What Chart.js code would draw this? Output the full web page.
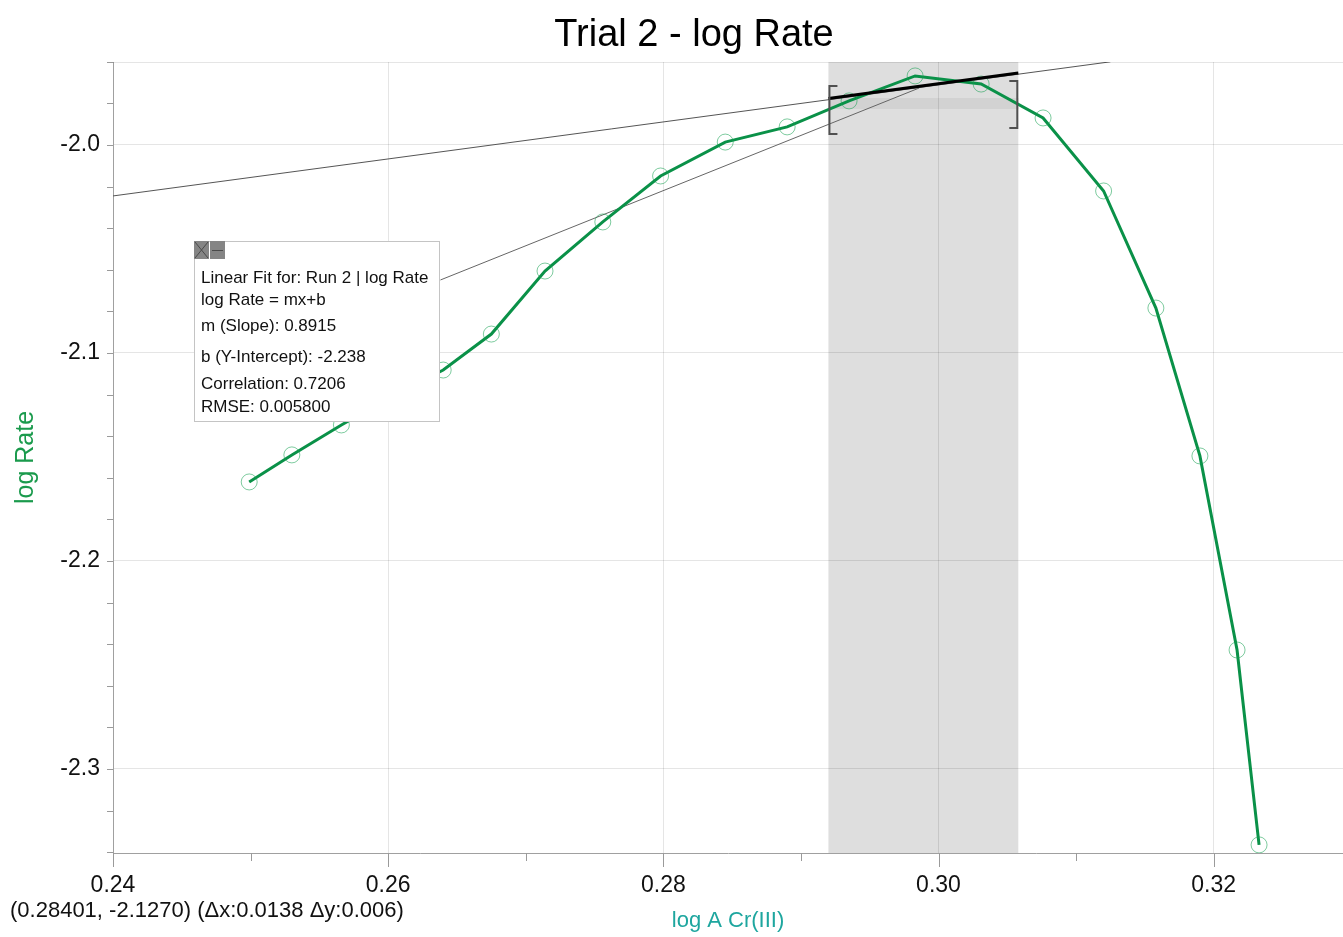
<!DOCTYPE html>
<html>
<head>
<meta charset="utf-8">
<title>Trial 2 - log Rate</title>
<script src="https://cdn.jsdelivr.net/npm/chart.js@4.4.1/dist/chart.umd.min.js"></script>
<style>
  html, body { margin: 0; padding: 0; background: #fff; }
  canvas { display: block; }
</style>
</head>
<body>
<canvas id="trial-chart" width="1343" height="937"></canvas>
<script>
// Run 2 readings
const logA = [0.2499, 0.2530, 0.2566, 0.2602, 0.2640, 0.2675, 0.2714, 0.2756, 0.2798, 0.2845,
              0.2890, 0.2935, 0.2983, 0.3031, 0.3076, 0.3120, 0.3158, 0.3190, 0.3217, 0.3233];
const logRate = [-2.1620, -2.1490, -2.1346, -2.1210, -2.1082, -2.0909, -2.0606, -2.0370, -2.0149, -1.9986,
                 -1.9913, -1.9788, -1.9668, -1.9707, -1.9870, -2.0221, -2.0784, -2.1495, -2.2428, -2.3365];

// linear fit over the selected range (thick) and extended (thin)
const fitX = [0.2920, 0.3058];
const fitY = [-1.9777, -1.9654];
const fitExtX = [0.2400, 0.3125];
const fitExtY = [-2.0245, -1.9600];
// second thin line running up to the peak
const guideX = [0.2638, 0.2986];
const guideY = [-2.0649, -1.9726];

// selection band + markers
const selX = [0.2920, 0.3058];
const stripY = [-1.9774, -1.9827];
const leftBracketY = [-1.9716, -1.9947];
const rightBracketY = [-1.9692, -1.9918];

// axes
const xMin = 0.24, xMax = 0.3294;
const yMin = -2.3404, yMax = -1.9601;
const xTicks = [0.24, 0.26, 0.28, 0.30, 0.32];
const xTickMarks = [0.24, 0.25, 0.26, 0.27, 0.28, 0.29, 0.30, 0.31, 0.32];
const yTicks = [-2.3, -2.2, -2.1, -2.0];
const yTickMarks = [-2.34, -2.32, -2.30, -2.28, -2.26, -2.24, -2.22, -2.20, -2.18, -2.16, -2.14,
                    -2.12, -2.10, -2.08, -2.06, -2.04, -2.02, -2.00, -1.98, -1.96];

const chartTitle = 'Trial 2 - log Rate';
const fitLines = [
  'Linear Fit for: Run 2 | log Rate',
  'log Rate = mx+b',
  'm (Slope): 0.8915',
  'b (Y-Intercept): -2.238',
  'Correlation: 0.7206',
  'RMSE: 0.005800'
];
const readout = '(0.28401, -2.1270) (\u0394x:0.0138 \u0394y:0.006)';

const FONT = '"Liberation Sans", Arial, sans-serif';
const GRID = 'rgba(0,0,0,0.10)';

function pts(xs, ys) {
  return xs.map((x, i) => ({ x: x, y: ys[i] }));
}

const overlay = {
  id: 'overlay',
  beforeDraw(chart) {
    const { ctx, chartArea, scales: { x, y } } = chart;
    ctx.save();
    ctx.fillStyle = '#fff';
    ctx.fillRect(0, 0, chart.width, chart.height);
    // selection band
    const bx0 = x.getPixelForValue(selX[0]);
    const bx1 = x.getPixelForValue(selX[1]);
    ctx.fillStyle = '#dedede';
    ctx.fillRect(bx0, chartArea.top, bx1 - bx0, chartArea.bottom - chartArea.top);
    const sy0 = y.getPixelForValue(stripY[0]);
    const sy1 = y.getPixelForValue(stripY[1]);
    ctx.fillStyle = '#d2d2d2';
    ctx.fillRect(bx0, sy0, bx1 - bx0, sy1 - sy0);
    ctx.restore();
  },
  afterDatasetsDraw(chart) {
    const { ctx, scales: { x, y } } = chart;
    ctx.save();
    ctx.strokeStyle = '#505050';
    ctx.lineWidth = 2;
    const lx = x.getPixelForValue(selX[0]);
    const rx = x.getPixelForValue(selX[1]);
    let t = y.getPixelForValue(leftBracketY[0]), b = y.getPixelForValue(leftBracketY[1]);
    ctx.beginPath();
    ctx.moveTo(lx + 9, t); ctx.lineTo(lx + 1, t); ctx.lineTo(lx + 1, b); ctx.lineTo(lx + 9, b);
    ctx.stroke();
    t = y.getPixelForValue(rightBracketY[0]); b = y.getPixelForValue(rightBracketY[1]);
    ctx.beginPath();
    ctx.moveTo(rx - 9, t); ctx.lineTo(rx - 1, t); ctx.lineTo(rx - 1, b); ctx.lineTo(rx - 9, b);
    ctx.stroke();
    ctx.restore();
  },
  afterDraw(chart) {
    const { ctx, chartArea, scales: { x, y } } = chart;
    ctx.save();
    // top edge of plot
    ctx.strokeStyle = GRID;
    ctx.lineWidth = 1;
    ctx.beginPath();
    ctx.moveTo(chartArea.left, chartArea.top + 0.5);
    ctx.lineTo(chartArea.right, chartArea.top + 0.5);
    ctx.stroke();

    // tick marks
    ctx.strokeStyle = '#9a9a9a';
    ctx.beginPath();
    xTickMarks.forEach(v => {
      const px = Math.round(x.getPixelForValue(v)) + 0.5;
      const len = xTicks.some(m => Math.abs(m - v) < 1e-9) ? 14 : 8;
      ctx.moveTo(px, chartArea.bottom);
      ctx.lineTo(px, chartArea.bottom + len);
    });
    yTickMarks.forEach(v => {
      const py = Math.round(y.getPixelForValue(v)) + 0.5;
      ctx.moveTo(chartArea.left - 6, py);
      ctx.lineTo(chartArea.left, py);
    });
    ctx.stroke();

    // title
    ctx.fillStyle = '#000';
    ctx.font = '38px ' + FONT;
    ctx.textAlign = 'center';
    ctx.textBaseline = 'alphabetic';
    ctx.fillText(chartTitle, 694, 46);

    // cursor readout
    ctx.font = '22px ' + FONT;
    ctx.textAlign = 'left';
    ctx.fillStyle = '#111';
    ctx.fillText(readout, 10, 917);

    // fit info box
    const bx = 194, by = 241, bw = 245, bh = 180;
    ctx.fillStyle = '#fff';
    ctx.fillRect(bx, by, bw, bh);
    ctx.strokeStyle = '#c4c4c4';
    ctx.strokeRect(bx + 0.5, by + 0.5, bw, bh);
    ctx.fillStyle = '#858585';
    ctx.fillRect(bx, by, 15, 18);
    ctx.fillRect(bx + 16, by, 15, 18);
    ctx.strokeStyle = '#4a4a4a';
    ctx.lineWidth = 1;
    ctx.beginPath();
    ctx.moveTo(bx + 1, by + 1); ctx.lineTo(bx + 14, by + 17);
    ctx.moveTo(bx + 14, by + 1); ctx.lineTo(bx + 1, by + 17);
    ctx.moveTo(bx + 18, by + 9.5); ctx.lineTo(bx + 29, by + 9.5);
    ctx.stroke();
    ctx.fillStyle = '#111';
    ctx.font = '17px ' + FONT;
    const baselines = [283, 305, 331, 362, 389, 412];
    fitLines.forEach((line, i) => ctx.fillText(line, 201, baselines[i]));
    ctx.restore();
  }
};

const ctx = document.getElementById('trial-chart').getContext('2d');
new Chart(ctx, {
  type: 'scatter',
  data: {
    datasets: [
      {
        label: 'fit extended',
        data: pts(fitExtX, fitExtY),
        showLine: true,
        borderColor: '#555',
        borderWidth: 1,
        pointRadius: 0,
        order: 4
      },
      {
        label: 'guide',
        data: pts(guideX, guideY),
        showLine: true,
        borderColor: '#666',
        borderWidth: 1,
        pointRadius: 0,
        order: 3
      },
      {
        label: 'Run 2',
        data: pts(logA, logRate),
        showLine: true,
        borderColor: '#0a9148',
        borderWidth: 3,
        pointRadius: 8,
        pointBorderWidth: 1,
        pointBorderColor: 'rgba(20,160,80,0.55)',
        pointBackgroundColor: 'rgba(0,0,0,0)',
        order: 2
      },
      {
        label: 'linear fit',
        data: pts(fitX, fitY),
        showLine: true,
        borderColor: '#000',
        borderWidth: 3,
        pointRadius: 0,
        order: 1
      }
    ]
  },
  options: {
    responsive: false,
    animation: false,
    events: [],
    layout: { padding: { top: 62, left: 0, right: 0, bottom: 0 }, autoPadding: false },
    plugins: {
      legend: { display: false },
      tooltip: { enabled: false }
    },
    scales: {
      x: {
        type: 'linear',
        min: xMin,
        max: xMax,
        afterBuildTicks: scale => { scale.ticks = xTicks.map(v => ({ value: v })); },
        afterFit: scale => { scale.height = 84; },
        grid: { color: GRID, drawTicks: false },
        border: { display: true, color: '#a0a0a0', width: 1 },
        ticks: {
          padding: 19,
          color: '#111',
          font: { family: FONT, size: 23 },
          maxRotation: 0,
          callback: v => Number(v).toFixed(2)
        },
        title: {
          display: true,
          text: 'log A Cr(III)',
          color: '#1ea69f',
          font: { family: FONT, size: 22 },
          padding: { top: 0, bottom: 3 }
        }
      },
      y: {
        type: 'linear',
        min: yMin,
        max: yMax,
        afterBuildTicks: scale => { scale.ticks = yTicks.map(v => ({ value: v })); },
        afterFit: scale => { scale.width = 113; },
        grid: { color: GRID, drawTicks: false },
        border: { display: true, color: '#a0a0a0', width: 1 },
        ticks: {
          padding: 13,
          color: '#111',
          font: { family: FONT, size: 23 },
          callback: v => Number(v).toFixed(1)
        },
        title: {
          display: true,
          text: 'log Rate',
          color: '#1a9a4c',
          font: { family: FONT, size: 25 },
          padding: { top: 11, bottom: 0 }
        }
      }
    }
  },
  plugins: [overlay]
});
</script>
</body>
</html>
